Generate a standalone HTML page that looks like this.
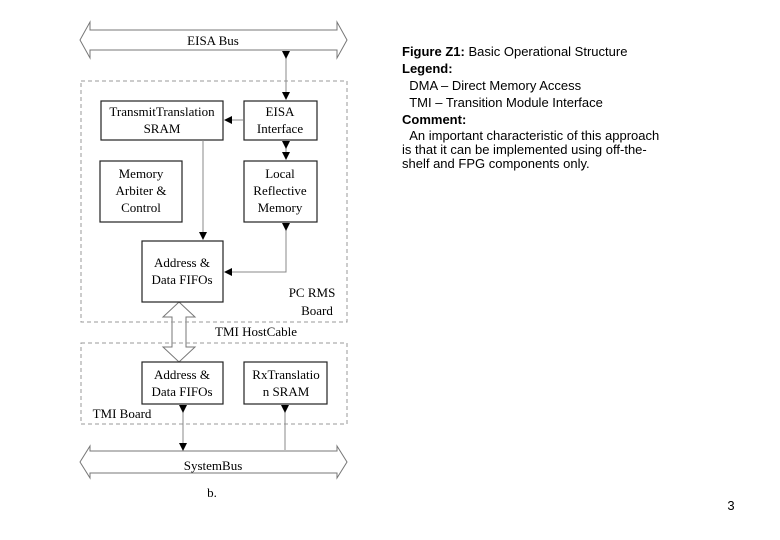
<!DOCTYPE html>
<html><head><meta charset="utf-8"><style>
html,body{margin:0;padding:0;background:#fff;}
body{width:780px;height:540px;position:relative;overflow:hidden;}
.t{position:absolute;left:402px;font-family:"Liberation Sans",sans-serif;font-size:13px;color:#000;white-space:nowrap;line-height:16px;}
</style></head><body>
<svg width="780" height="540" style="position:absolute;left:0;top:0" font-family="Liberation Serif,serif" font-size="13">
<defs><marker id="a" markerWidth="8" markerHeight="8" refX="4" refY="4" orient="auto"><path d="M0,0L8,4L0,8z" fill="#000"/></marker></defs>
<g fill="none" stroke="#777" stroke-width="1">
<path d="M80,40 L90,22 L90,30 L337,30 L337,22 L347,40 L337,58 L337,50 L90,50 L90,58 Z"/>
<path d="M80,462 L90,446 L90,451 L337,451 L337,446 L347,462 L337,478 L337,473 L90,473 L90,478 Z"/>
<path d="M179,302 L195,317 L186,317 L186,347 L195,347 L179,362 L163,347 L172,347 L172,317 L163,317 Z"/>
</g>
<g fill="none" stroke="#999" stroke-dasharray="4,3">
<rect x="81" y="81" width="266" height="241"/>
<rect x="81" y="343" width="266" height="81"/>
</g>
<g fill="#fff" stroke="#222" stroke-width="1.2">
<rect x="101" y="101" width="122" height="39"/>
<rect x="244" y="101" width="73" height="39"/>
<rect x="100" y="161" width="82" height="61"/>
<rect x="244" y="161" width="73" height="61"/>
<rect x="142" y="241" width="81" height="61"/>
<rect x="142" y="362" width="81" height="42"/>
<rect x="244" y="362" width="83" height="42"/>
</g>
<g stroke="#888" fill="none" stroke-width="1">
<line x1="286" y1="55" x2="286" y2="96" marker-start="url(#a)" marker-end="url(#a)"/>
<line x1="243" y1="120" x2="228" y2="120" marker-end="url(#a)"/>
<line x1="286" y1="145" x2="286" y2="156" marker-start="url(#a)" marker-end="url(#a)"/>
<line x1="203" y1="140" x2="203" y2="236" marker-end="url(#a)"/>
<polyline points="286,227 286,272 228,272" marker-start="url(#a)" marker-end="url(#a)"/>
<line x1="183" y1="409" x2="183" y2="447" marker-start="url(#a)" marker-end="url(#a)"/>
<line x1="285" y1="409" x2="285" y2="450" marker-start="url(#a)"/>
</g>
<g fill="#000" text-anchor="middle">
<text x="213" y="45">EISA Bus</text>
<text x="162" y="116">TransmitTranslation</text><text x="162" y="133">SRAM</text>
<text x="280" y="116">EISA</text><text x="280" y="133">Interface</text>
<text x="141" y="178">Memory</text><text x="141" y="195">Arbiter &amp;</text><text x="141" y="212">Control</text>
<text x="280" y="178">Local</text><text x="280" y="195">Reflective</text><text x="280" y="212">Memory</text>
<text x="182" y="267">Address &amp;</text><text x="182" y="284">Data FIFOs</text>
<text x="312" y="297">PC RMS</text><text x="317" y="315">Board</text>
<text x="256" y="336">TMI HostCable</text>
<text x="182" y="379">Address &amp;</text><text x="182" y="396">Data FIFOs</text>
<text x="286" y="379">RxTranslatio</text><text x="286" y="396">n SRAM</text>
<text x="122" y="418">TMI Board</text>
<text x="213" y="470">SystemBus</text>
<text x="212" y="497">b.</text>
<text x="731" y="510" font-family="Liberation Sans,sans-serif">3</text>
</g>
</svg>
<div class="t" style="top:44px"><b>Figure Z1:</b> Basic Operational Structure</div>
<div class="t" style="top:61px"><b>Legend:</b></div>
<div class="t" style="top:78px">&nbsp;&nbsp;DMA – Direct Memory Access</div>
<div class="t" style="top:95px">&nbsp;&nbsp;TMI – Transition Module Interface</div>
<div class="t" style="top:112px"><b>Comment:</b></div>
<div class="t" style="top:129px;line-height:14px">&nbsp;&nbsp;An important characteristic of this approach<br>is that it can be implemented using off-the-<br>shelf and FPG components only.</div>
</body></html>
